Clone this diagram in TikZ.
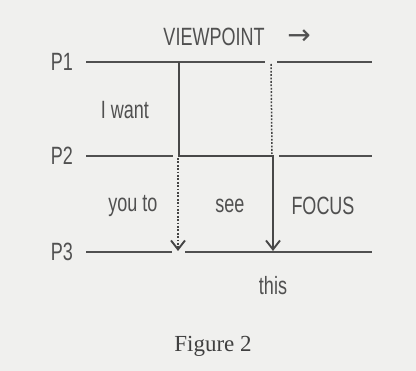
\documentclass[tikz,border=0pt]{standalone}
\usepackage{fontspec}
\setmainfont{Liberation Serif}
\newfontfamily\narrowsans[FakeStretch=0.72]{Liberation Sans}
\newfontfamily\symbfont{DejaVu Sans}
\usetikzlibrary{arrows.meta}
\definecolor{paper}{HTML}{F0F0EE}
\definecolor{ink}{HTML}{505050}
\tikzset{
  lbl/.style={font=\narrowsans\fontsize{25}{25}\selectfont, text=ink, inner sep=0pt},
  level/.style={draw=ink, line width=1.6pt},
  gaze/.style={draw=ink!90!black, line width=2.2pt},
  hint/.style={draw=ink!85!black, line width=1.5pt, dash pattern=on 1.8pt off 1.6pt},
  tip/.style={-{Straight Barb[length=9pt, width=14pt, line width=1.9pt]}}
}
\begin{document}
\begin{tikzpicture}[x=1pt, y=-1pt]
  \fill[paper] (0,0) rectangle (416,371);
  \useasboundingbox (0,0) rectangle (416,371);
  % levels
  \node[lbl] (p1) at (62,62) {P1};
  \node[lbl] (p2) at (62,156) {P2};
  \node[lbl] (p3) at (62,252) {P3};
  \coordinate (a1) at (86,62);  \coordinate (b1) at (265,62);
  \coordinate (c1) at (277,62); \coordinate (d1) at (372,62);
  \coordinate (a2) at (86,156); \coordinate (b2) at (173,156);
  \coordinate (c2) at (279,156); \coordinate (d2) at (372,156);
  \coordinate (a3) at (86,252); \coordinate (b3) at (172,252);
  \coordinate (c3) at (185,252); \coordinate (d3) at (372,252);
  \draw[level] (a1) -- (b1);
  \draw[level] (c1) -- (d1);
  \draw[level] (a2) -- (b2);
  \draw[level] (c2) -- (d2);
  \draw[level] (a3) -- (b3);
  \draw[level] (c3) -- (d3);
  % what is seen
  \coordinate (s1) at (179,62);
  \coordinate (s2) at (179,156);
  \coordinate (f2) at (273,156);
  \coordinate (f3) at (273,251);
  \draw[gaze, tip] (s1) -- (s2) -- (f2) -- (f3);
  % what could be seen
  \coordinate (h1) at (271,64);
  \coordinate (h2) at (272,154);
  \coordinate (g2) at (178,158);
  \coordinate (g3) at (178,251);
  \draw[hint] (h1) -- (h2);
  \draw[hint, tip] (g2) -- (g3);
  % words
  \node[lbl] (view) at (214,37) {VIEWPOINT};
  \node[lbl, font=\symbfont\fontsize{28}{28}\selectfont] (arr) at (299,37) {→};
  \node[lbl] (want) at (125,110) {I want};
  \node[lbl] (you) at (133,206) {you to};
  \node[lbl] (see) at (230,206) {see};
  \node[lbl] (focus) at (323,206) {FOCUS};
  \node[lbl] (this) at (273,286) {this};
  \node[font=\fontsize{23}{23}\selectfont, text=ink!80!black] (cap) at (213,346) {Figure 2};
\end{tikzpicture}
\end{document}
